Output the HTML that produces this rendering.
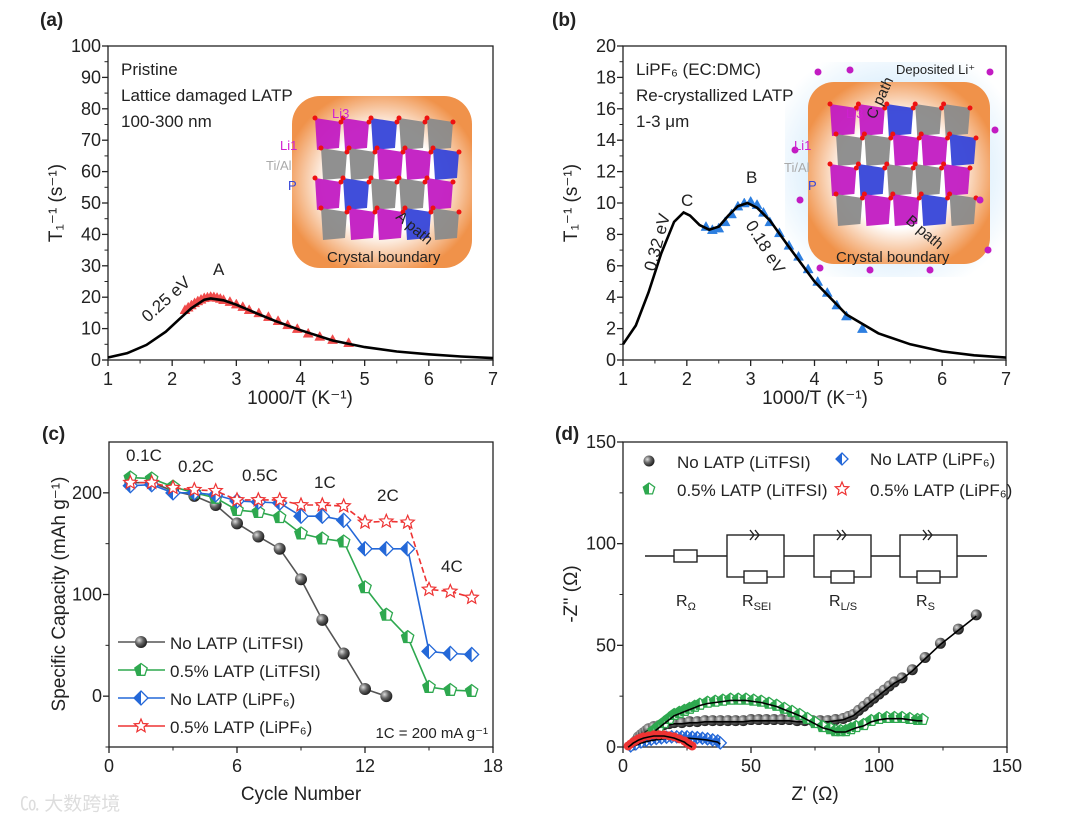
<!DOCTYPE html>
<html><head><meta charset="utf-8"><style>
body{margin:0;background:#fff}
svg{display:block;font-family:"Liberation Sans",sans-serif}
</style></head><body>
<svg id="fig" width="1080" height="825" viewBox="0 0 1080 825">
<defs>
<radialGradient id="ball" cx="35%" cy="35%" r="65%"><stop offset="0" stop-color="#ddd"/><stop offset="0.5" stop-color="#666"/><stop offset="1" stop-color="#222"/></radialGradient>
<radialGradient id="glowO" cx="50%" cy="50%" r="55%"><stop offset="0.55" stop-color="#fff"/><stop offset="1" stop-color="#f0924a"/></radialGradient>
<radialGradient id="glowB" cx="50%" cy="50%" r="60%"><stop offset="0.6" stop-color="#dbeefc"/><stop offset="1" stop-color="#fff"/></radialGradient>
</defs>
<g id="root"></g>
</svg>
<script>
// ---------- DATA ----------
const aCurveX=[1,1.3,1.6,1.9,2.1,2.3,2.5,2.6,2.8,3,3.3,3.6,4,4.5,5,5.5,6,6.5,7];
const aCurveY=[0.8,2.2,4.8,9,12.8,16.5,19.2,19.6,19,17.6,15,12.5,9.5,6.2,4.1,2.7,1.8,1.1,0.6];
const aTriX=[2.2,2.25,2.3,2.35,2.4,2.45,2.5,2.55,2.6,2.65,2.7,2.75,2.8,2.9,3,3.1,3.2,3.35,3.5,3.65,3.8,3.95,4.12,4.3,4.5,4.75];
const aTriY=[16,16.8,17.5,18.2,18.8,19.3,19.8,20,20.2,20.1,19.9,19.6,19.2,18.6,17.8,17,16,15,13.8,12.5,11.2,10,8.5,7.5,6.5,5.5];
const bCurveX=[1,1.2,1.4,1.6,1.8,1.95,2.05,2.2,2.35,2.5,2.65,2.8,2.95,3.1,3.3,3.6,4,4.5,5,5.5,6,6.5,7];
const bCurveY=[1,2.2,4.3,6.8,8.8,9.4,9.2,8.6,8.3,8.5,9.2,9.8,10,9.7,8.9,7.2,5,2.9,1.7,1,0.55,0.3,0.15];
const bTriX=[2.3,2.4,2.5,2.6,2.7,2.8,2.9,3,3.1,3.2,3.3,3.45,3.6,3.75,3.9,4.05,4.2,4.35,4.5,4.75];
const bTriY=[8.5,8.3,8.4,8.8,9.3,9.8,10,10.1,9.9,9.4,8.8,8.1,7.3,6.6,5.8,5,4.3,3.5,2.8,2];
const cycles=[1,2,3,4,5,6,7,8,9,10,11,12,13,14,15,16,17];
const capBlack=[210,210,202,197,188,170,157,145,115,75,42,7,0];
const capGreen=[215,214,206,200,195,183,181,176,160,155,152,107,80,58,9,6,5];
const capBlue=[207,208,200,200,198,192,191,190,177,177,173,145,145,145,44,42,41];
const capRed=[210,210,205,203,202,193,193,193,188,188,187,171,172,171,105,103,97];
const dBlackX=[4,5,6,7,8,9,10,12,14,16,18,20,23,26,29,32,35,38,41,44,47,50,53,56,59,62,65,68,71,74,77,80,83,86,88,90,92,94,96,98,100,102,104,106,109,113,118,124,131,138];
const dBlackY=[1,3,5,6,7,8,9,10,10.5,11,11.5,12,12,12.5,12.5,13,13,13,13,13,13,13.5,13.5,13.5,13.5,13.5,13.5,13,13,13,13,13,13.5,14,15,16,18,20,22,24,26,28,30,32,34,38,44,51,58,65];
const dGreenX=[10,12,14,16,18,20,22,24,26,28,30,33,36,39,42,45,48,51,54,57,60,63,66,69,72,75,78,81,83,85,87,89,91,94,97,100,103,106,109,112,115,117];
const dGreenY=[5,8,10,12,14,16,17,18,19,20,21,22,22.5,23,23.5,23.5,23.5,23,22.5,21.5,20.5,19,17.5,16,14,12,10,9,8,8,8,9,10,11,13,14,14.5,14.5,14.5,14,13.5,13.5];
const dBlueX=[3,5,7,9,11,13,15,17,19,21,23,25,27,29,31,33,35,37,38];
const dBlueY=[0.5,1.5,2.5,3.2,3.8,4.2,4.5,4.8,5,5,5,5,4.8,4.6,4.3,4,3.5,3,2];
const dRedX=[2,3,4,5,6,7,8,10,12,14,16,18,20,22,24,25,26,27];
const dRedY=[0.5,1.5,2.5,3.2,4,4.5,5,5.5,6,6,6,5.5,5,4,3,2,1.2,0.5];
const aTicks=[0,10,20,30,40,50,60,70,80,90,100];
const bTicks=[0,2,4,6,8,10,12,14,16,18,20];
const xTicksT=[1,2,3,4,5,6,7];
const cYTicks=[0,100,200];
const cXTicks=[0,6,12,18];
const dTicks=[0,50,100,150];

// ---------- HELPERS ----------
const NS='http://www.w3.org/2000/svg';
const root=document.getElementById('root');
function mk(tag,attrs,parent,txt){const e=document.createElementNS(NS,tag);for(const k in attrs)e.setAttribute(k,attrs[k]);if(txt!==undefined)e.textContent=txt;(parent||root).appendChild(e);return e;}
function lin(d0,d1,p0,p1){return v=>p0+(v-d0)*(p1-p0)/(d1-d0);}
function axes(g,L,R,T,B,sx,sy,xt,yt,minorX,minorY){
  const box=mk('rect',{x:L,y:T,width:R-L,height:B-T,fill:'none',stroke:'#222','stroke-width':1.3},g);
  
  xt.forEach(v=>{const x=sx(v);mk('line',{x1:x,x2:x,y1:B,y2:B+6,stroke:'#222','stroke-width':1.3},g);
    const t=mk('text',{x:x,y:B+25,'font-size':18,'text-anchor':'middle',fill:'#222'},g,String(v));
    });
  minorX.forEach(v=>{const x=sx(v);mk('line',{x1:x,x2:x,y1:B,y2:B+3.5,stroke:'#222','stroke-width':1},g);});
  yt.forEach(v=>{const y=sy(v);mk('line',{x1:L-6,x2:L,y1:y,y2:y,stroke:'#222','stroke-width':1.3},g);
    const t=mk('text',{x:L-7,y:y+6,'font-size':18,'text-anchor':'end',fill:'#222'},g,String(v));
    });
  minorY.forEach(v=>{const y=sy(v);mk('line',{x1:L-3.5,x2:L,y1:y,y2:y,stroke:'#222','stroke-width':1},g);});
}
function poly(g,xs,ys,sx,sy,attrs){const p=xs.map((x,i)=>sx(x).toFixed(1)+','+sy(ys[i]).toFixed(1)).join(' ');return mk('polyline',Object.assign({points:p,fill:'none'},attrs),g);}
function tri(g,x,y,s,fill){return mk('polygon',{points:`${x},${y-s} ${x-s},${y+s*0.8} ${x+s},${y+s*0.8}`,fill:fill,stroke:fill,'stroke-width':0.5},g);}
function star(g,x,y,r,col){let p=[];for(let i=0;i<10;i++){const a=-Math.PI/2+i*Math.PI/5,rr=i%2?r*0.45:r;p.push((x+rr*Math.cos(a)).toFixed(1)+','+(y+rr*Math.sin(a)).toFixed(1));}
  return mk('polygon',{points:p.join(' '),fill:'#fff',stroke:col,'stroke-width':1.2},g);}
function pent(g,x,y,r,col){let p=[];for(let i=0;i<5;i++){const a=-Math.PI/2+i*2*Math.PI/5;p.push((x+r*Math.cos(a)).toFixed(1)+','+(y+r*Math.sin(a)).toFixed(1));}
  const gg=mk('g',{},g);mk('polygon',{points:p.join(' '),fill:'#fff',stroke:col,'stroke-width':1.3},gg);
  mk('path',{d:`M${x},${y-r} L${x-r*0.95},${y-r*0.3} L${x-r*0.6},${y+r*0.8} L${x},${y+r*0.8}Z`,fill:col},gg);return gg;}
function diam(g,x,y,r,col){const gg=mk('g',{},g);mk('polygon',{points:`${x},${y-r} ${x+r},${y} ${x},${y+r} ${x-r},${y}`,fill:'#fff',stroke:col,'stroke-width':1.3},gg);
  mk('polygon',{points:`${x},${y-r} ${x-r},${y} ${x},${y+r}`,fill:col},gg);return gg;}
function ball(g,x,y,r){return mk('circle',{cx:x,cy:y,r:r,fill:'url(#ball)'},g);}
function label(g,x,y,s,txt,extra){const t=mk('text',Object.assign({x:x,y:y,'font-size':s,fill:'#222'},extra||{}),g,txt);return t;}
function crystal(g,x0,y0,w,h){
  const cols=['#c21bc2','#8a8a8a','#c21bc2','#8a8a8a','#3645d8'];
  for(let r=0;r<4;r++)for(let c=0;c<5;c++){
    const x=x0+c*w/5+((r%2)*6),y=y0+r*h/4,col=cols[(r+c*2)%5];
    mk('polygon',{points:`${x+2},${y} ${x+w/5},${y+4} ${x+w/5-2},${y+h/4} ${x+4},${y+h/4+2}`,fill:col,opacity:0.95},g);
    mk('circle',{cx:x+2,cy:y,r:2.5,fill:'#e11'},g);mk('circle',{cx:x+w/5,cy:y+4,r:2.5,fill:'#e11'},g);
  }
}

// ---------- PANEL A ----------
(function(){
const g=mk('g',{});
const L=108,R=493,T=46,B=360,sx=lin(1,7,L,R),sy=lin(0,100,B,T);
label(g,40,26,19,'(a)',{'font-weight':'bold'});
const ins=mk('g',{},g);
mk('rect',{x:292,y:96,width:180,height:172,rx:28,fill:'url(#glowO)'},ins);
crystal(ins,313,118,140,120);
label(ins,327,262,15,'Crystal boundary');
label(ins,280,150,13,'Li1',{fill:'#d020d0'});label(ins,332,118,13,'Li3',{fill:'#d020d0'});
label(ins,266,170,13,'Ti/Al',{fill:'#aaa'});label(ins,288,190,13,'P',{fill:'#3645d8'});
label(ins,395,218,15,'A path',{transform:'rotate(40 395 218)'});
axes(g,L,R,T,B,sx,sy,xTicksT,aTicks,[1.5,2.5,3.5,4.5,5.5,6.5],[5,15,25,35,45,55,65,75,85,95]);
aTriX.forEach((x,i)=>{const m=tri(g,sx(x),sy(aTriY[i]),5,'#f04a4a');});
const c=poly(g,aCurveX,aCurveY,sx,sy,{stroke:'#000','stroke-width':2.6});
label(g,121,75,17,'Pristine');label(g,121,101,17,'Lattice damaged LATP');label(g,121,127,17,'100-300 nm');
label(g,148,323,17,'0.25 eV',{transform:'rotate(-42 148 323)'});label(g,213,275,17,'A');
label(g,300,404,19,'1000/T (K⁻¹)',{'text-anchor':'middle'});
label(g,62,203,19,'T₁⁻¹ (s⁻¹)',{'text-anchor':'middle',transform:'rotate(-90 62 203)'});
})();

// ---------- PANEL B ----------
(function(){
const g=mk('g',{});
const L=623,R=1006,T=46,B=360,sx=lin(1,7,L,R),sy=lin(0,20,B,T);
label(g,552,26,19,'(b)',{'font-weight':'bold'});
const ins=mk('g',{},g);
mk('rect',{x:785,y:62,width:220,height:215,rx:30,fill:'url(#glowB)'},ins);
mk('rect',{x:808,y:82,width:182,height:182,rx:26,fill:'url(#glowO)'},ins);
crystal(ins,828,104,142,120);
[[818,72],[850,70],[990,72],[995,130],[980,200],[800,200],[820,268],[870,270],[930,270],[988,250],[795,150]].forEach(p=>mk('circle',{cx:p[0],cy:p[1],r:3.5,fill:'#c21bc2'},ins));
label(ins,836,262,15,'Crystal boundary');label(ins,896,74,13,'Deposited Li⁺');
label(ins,794,150,13,'Li1',{fill:'#d020d0'});label(ins,846,118,13,'Li3',{fill:'#d020d0'});
label(ins,784,172,13,'Ti/Al',{fill:'#aaa'});label(ins,808,190,13,'P',{fill:'#3645d8'});
label(ins,905,222,15,'B path',{transform:'rotate(40 905 222)'});label(ins,875,120,15,'C path',{transform:'rotate(-65 875 120)'});
axes(g,L,R,T,B,sx,sy,xTicksT,bTicks,[1.5,2.5,3.5,4.5,5.5,6.5],[1,3,5,7,9,11,13,15,17,19]);
bTriX.forEach((x,i)=>{const m=tri(g,sx(x),sy(bTriY[i]),5,'#2d7fe0');});
const c=poly(g,bCurveX,bCurveY,sx,sy,{stroke:'#000','stroke-width':2.6});
label(g,636,75,17,'LiPF₆ (EC:DMC)');label(g,636,101,17,'Re-crystallized LATP');label(g,636,127,17,'1-3 μm');
label(g,655,272,17,'0.32 eV',{transform:'rotate(-75 655 272)'});label(g,745,225,17,'0.18 eV',{transform:'rotate(58 745 225)'});
label(g,681,206,17,'C');label(g,746,183,17,'B');
label(g,815,404,19,'1000/T (K⁻¹)',{'text-anchor':'middle'});
label(g,577,203,19,'T₁⁻¹ (s⁻¹)',{'text-anchor':'middle',transform:'rotate(-90 577 203)'});
})();

// ---------- PANEL C ----------
(function(){
const g=mk('g',{});
const L=109,R=493,T=442,B=747,sx=lin(0,18,L,R),sy=lin(-50,250,B,T);
label(g,42,440,19,'(c)',{'font-weight':'bold'});
axes(g,L,R,T,B,sx,sy,cXTicks,cYTicks,[3,9,15],[50,150,-50]);
function series(vals,col,dash,fn,name){const xs=cycles.slice(0,vals.length);
  const l=poly(g,xs,vals,sx,sy,{stroke:col,'stroke-width':1.6,'stroke-dasharray':dash});
  xs.forEach((x,i)=>{const m=fn(g,sx(x),sy(vals[i]));});}
series(capBlack,'#555','none',(g,x,y)=>ball(g,x,y,6),'no-latp-litfsi');
series(capGreen,'#2ea84f','none',(g,x,y)=>pent(g,x,y,6.5,'#2ea84f'),'latp-litfsi');
series(capBlue,'#2468d8','none',(g,x,y)=>diam(g,x,y,7,'#2468d8'),'no-latp-lipf6');
series(capRed,'#e33','6,3',(g,x,y)=>star(g,x,y,7,'#e33'),'latp-lipf6');
[['0.1C',126,461],['0.2C',178,472],['0.5C',242,481],['1C',314,488],['2C',377,501],['4C',441,572]].forEach(a=>label(g,a[1],a[2],17,a[0]));
const lg=mk('g',{},g);
const items=[['No LATP (LiTFSI)','#555',(x,y)=>ball(lg,x,y,6)],['0.5% LATP (LiTFSI)','#2ea84f',(x,y)=>pent(lg,x,y,6.5,'#2ea84f')],['No LATP (LiPF₆)','#2468d8',(x,y)=>diam(lg,x,y,7,'#2468d8')],['0.5% LATP (LiPF₆)','#e33',(x,y)=>star(lg,x,y,7,'#e33')]];
items.forEach((it,i)=>{const y=642+i*28;mk('line',{x1:118,x2:165,y1:y,y2:y,stroke:it[1],'stroke-width':1.6},lg);it[2](141,y);
  const t=label(lg,170,y+7,17,it[0]);});
label(g,488,738,15,'1C = 200 mA g⁻¹',{'text-anchor':'end'});
label(g,301,800,19,'Cycle Number',{'text-anchor':'middle'});
label(g,65,594,19,'Specific Capacity (mAh g⁻¹)',{'text-anchor':'middle',transform:'rotate(-90 65 594)'});
label(g,20,810,19,'㏇ 大数跨境',{fill:'#ddd'});
})();

// ---------- PANEL D ----------
(function(){
const g=mk('g',{});
const L=623,R=1007,T=442,B=747,sx=lin(0,150,L,R),sy=lin(0,150,B,T);
label(g,555,440,19,'(d)',{'font-weight':'bold'});
axes(g,L,R,T,B,sx,sy,dTicks,dTicks,[25,75,125],[25,75,125]);
function pts(xs,ys,fn,name){xs.forEach((x,i)=>{const m=fn(g,sx(x),sy(ys[i]));});
  const l=poly(g,xs,ys.map(v=>v-0.6),sx,sy,{stroke:'#000','stroke-width':1.6});}
pts(dBlackX,dBlackY,(g,x,y)=>ball(g,x,y,5.5),'no-latp-litfsi');
pts(dGreenX,dGreenY,(g,x,y)=>pent(g,x,y,6,'#2ea84f'),'latp-litfsi');
pts(dBlueX,dBlueY,(g,x,y)=>diam(g,x,y,6,'#2468d8'),'no-latp-lipf6');
pts(dRedX,dRedY,(g,x,y)=>mk('circle',{cx:x,cy:y,r:4.5,fill:'#e33'},g),'latp-lipf6');
const lg=mk('g',{},g);
ball(lg,649,461,5.5);pent(lg,649,489,6,'#2ea84f');diam(lg,842,459,6,'#2468d8');star(lg,842,489,7,'#e33');
[['No LATP (LiTFSI)',677,468],['0.5% LATP (LiTFSI)',677,496],['No LATP (LiPF₆)',870,465],['0.5% LATP (LiPF₆)',870,496]].forEach(a=>{const t=label(lg,a[1],a[2],17,a[0]);});
const ck=mk('g',{fill:'none',stroke:'#222','stroke-width':1.4},g);
mk('line',{x1:645,x2:987,y1:556,y2:556},ck);
mk('rect',{x:674,y:550,width:23,height:12,fill:'#fff'},ck);
[727,814,900].forEach(x=>{mk('rect',{x:x,y:535,width:57,height:42,fill:'#fff'},ck);
  mk('rect',{x:x+17,y:571,width:23,height:12,fill:'#fff'},ck);
  mk('path',{d:`M${x+23},530 l4,5 l-4,5 M${x+28},530 l4,5 l-4,5`},ck);});
[['Ω',676],['SEI',742],['L/S',829],['S',916]].forEach(a=>{const t=label(g,a[1],606,16,'R');mk('tspan',{'font-size':11,dy:4},t,a[0]);});
label(g,815,800,19,"Z' (Ω)",{'text-anchor':'middle'});
label(g,577,594,19,'-Z\'\' (Ω)',{'text-anchor':'middle',transform:'rotate(-90 577 594)'});
})();
</script>
</body></html>
